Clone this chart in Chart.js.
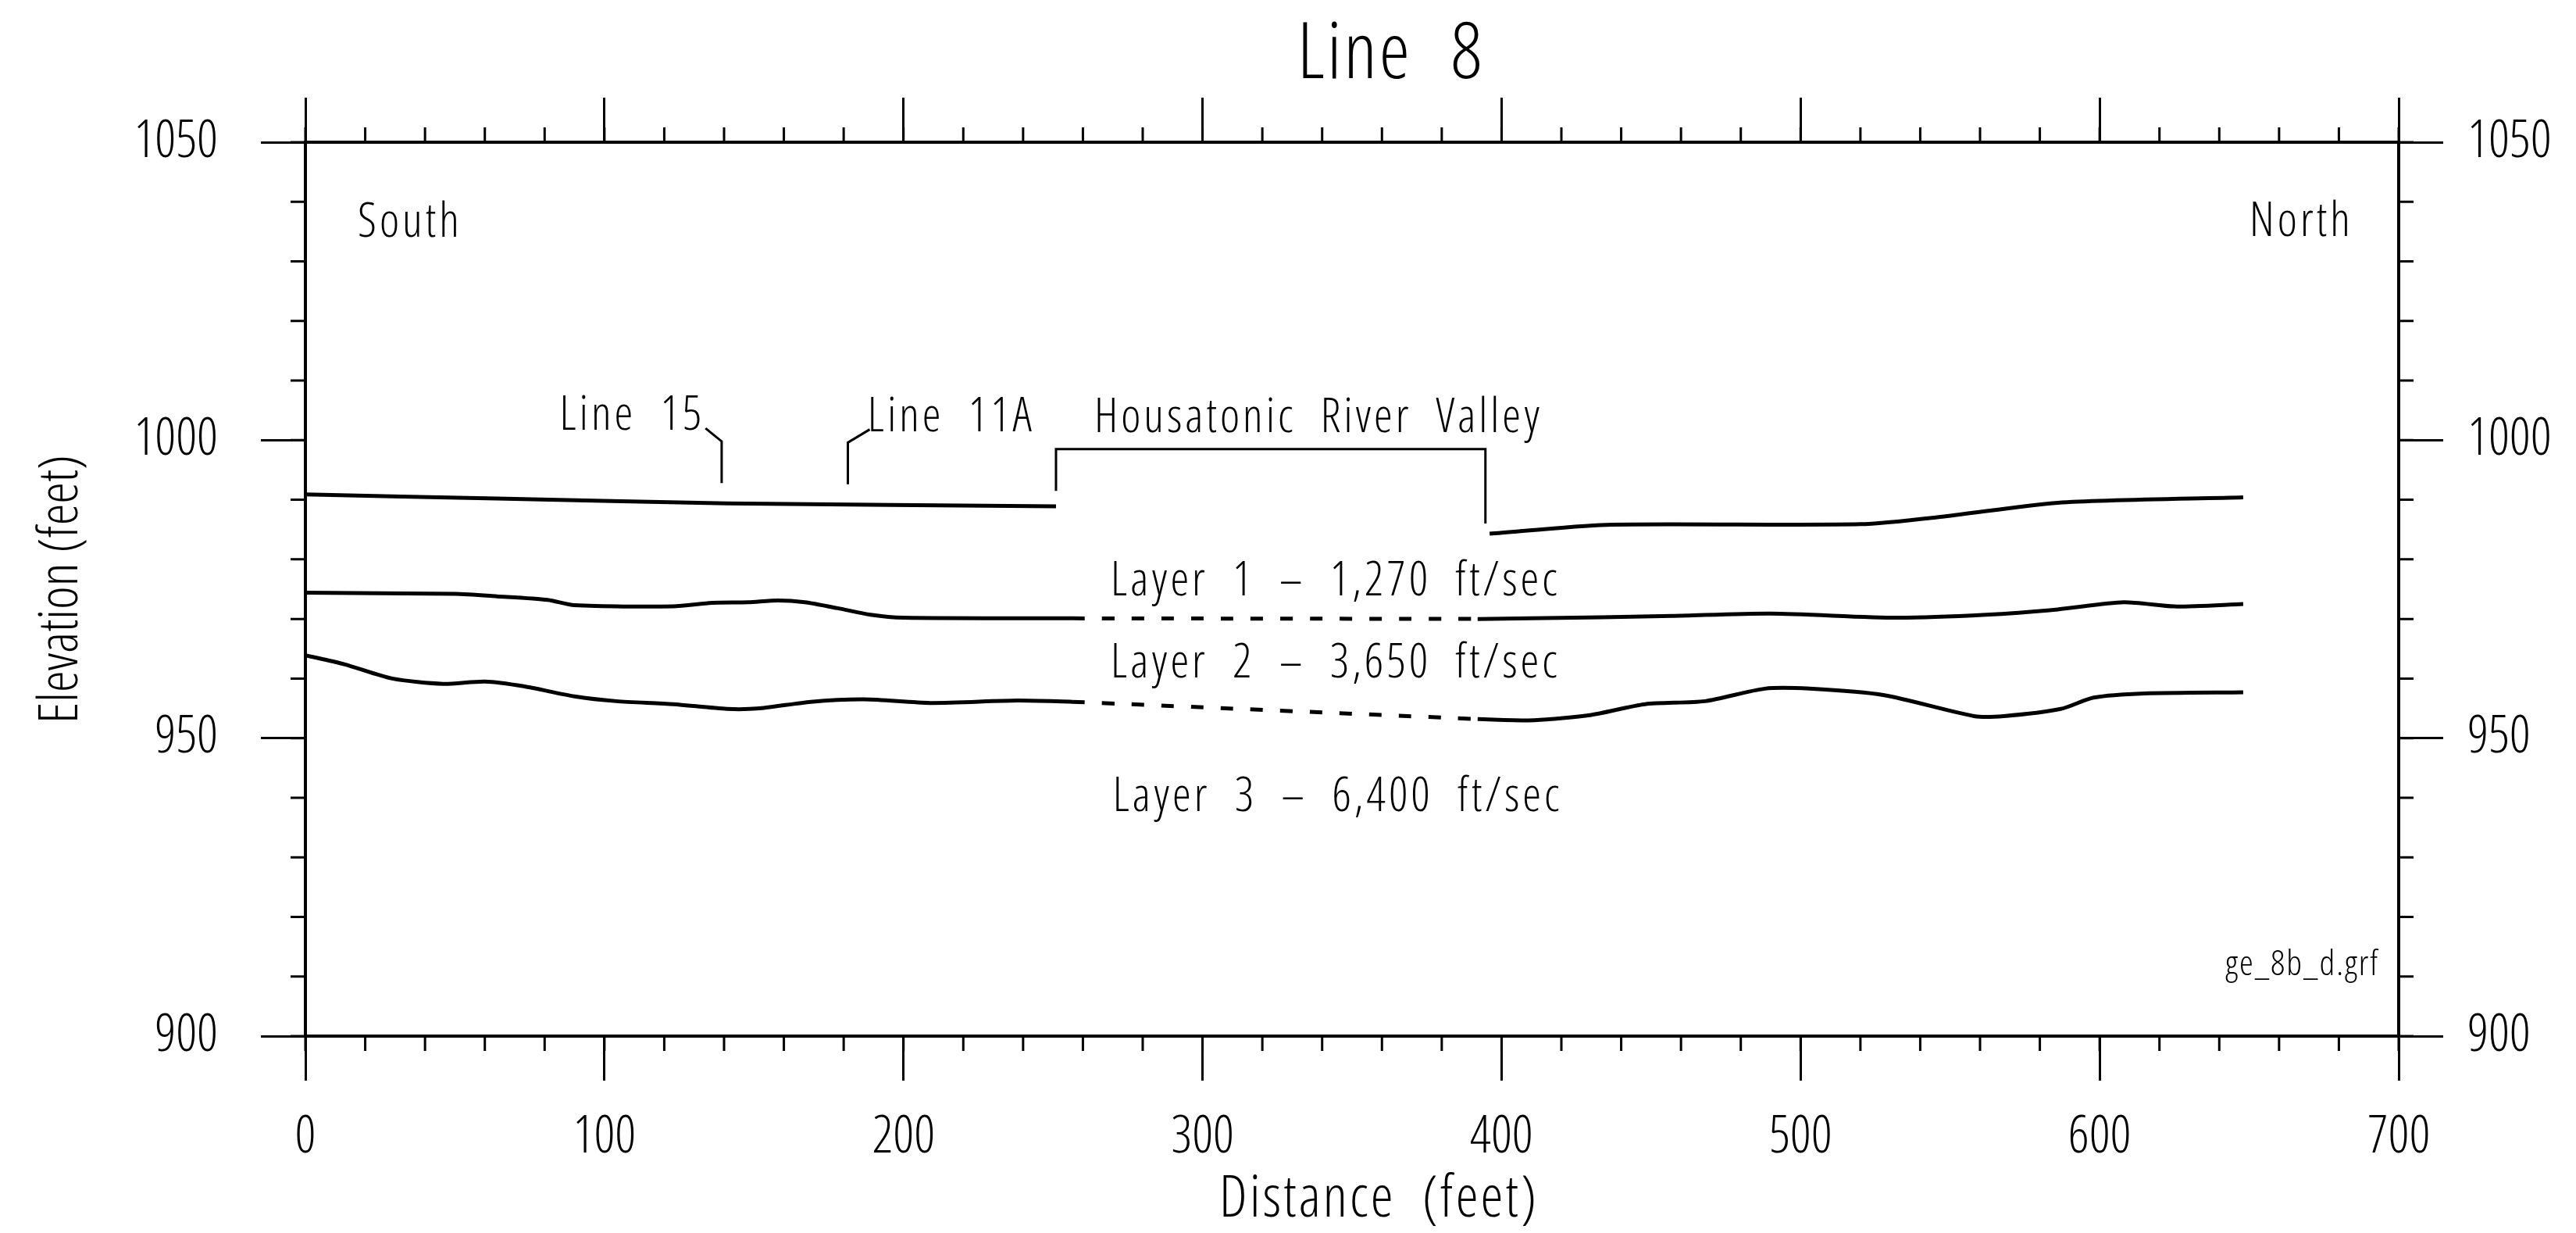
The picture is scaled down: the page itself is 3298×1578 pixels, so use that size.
<!DOCTYPE html>
<html>
<head>
<meta charset="utf-8">
<title>Line 8</title>
<script src="https://cdn.jsdelivr.net/npm/chart.js@4.4.1/dist/chart.umd.min.js"></script>
<style>
  html, body { margin: 0; padding: 0; background: #fff; }
  #wrap { width: 3298px; height: 1578px; }
</style>
</head>
<body>
<div id="wrap"><canvas id="profileChart" width="3298" height="1578"></canvas></div>
<script>
// thin condensed face, closest thing to the plotter font of the original
var FONT = "'Open Sans', 'DejaVu Sans Condensed', sans-serif";
var FACE = "300 condensed"; // goes in front of the size in the css font string

// axis ticks (feet)
var xTickValues = [0, 100, 200, 300, 400, 500, 600, 700];
var yTickValues = [900, 950, 1000, 1050];

// ground surface, south of the valley and north of it
var surfaceSouthX = [0, 64, 141, 251];
var surfaceSouthY = [990.9, 990.2, 989.4, 988.9];
var surfaceNorthX = [396, 435, 520, 548, 586, 648];
var surfaceNorthY = [984.3, 985.8, 985.9, 987.2, 989.5, 990.4];

// base of layer 1 (dashed where it crosses the valley)
var layer1SouthX = [0, 50, 64, 81, 90, 123, 136, 148, 158, 167, 178, 189, 200, 256.5];
var layer1SouthY = [974.4, 974.2, 973.8, 973.2, 972.3, 972.1, 972.7, 972.8, 973.1, 972.8, 971.8, 970.7, 970.2, 970.1];
var layer1GapX = [256.5, 392];
var layer1GapY = [970.1, 970.0];
var layer1NorthX = [392, 410, 457, 490, 532, 562, 586, 608, 625, 648];
var layer1NorthY = [970.0, 970.1, 970.5, 970.9, 970.2, 970.7, 971.6, 972.8, 972.1, 972.5];

// base of layer 2
var layer2SouthX = [0, 13, 29, 46, 60, 73, 90, 104, 123, 141, 152, 169, 187, 209, 238, 256.5];
var layer2SouthY = [963.9, 962.4, 960.0, 959.1, 959.5, 958.7, 957.0, 956.2, 955.7, 954.9, 955.0, 956.1, 956.5, 955.9, 956.3, 956.1];
var layer2GapX = [256.5, 392];
var layer2GapY = [956.1, 953.2];
var layer2NorthX = [392, 411, 430, 448, 468, 488, 503, 528, 558, 568, 587, 598, 615, 648];
var layer2NorthY = [953.2, 953.0, 953.9, 955.7, 956.2, 958.3, 958.3, 957.2, 953.7, 953.7, 954.9, 956.8, 957.5, 957.7];

// leaders for the crossing lines and the valley bracket
var line15LeaderX = [133.8, 139.2, 139.2];
var line15LeaderY = [1002.0, 999.8, 992.8];
var line11aLeaderX = [188.7, 181.4, 181.4];
var line11aLeaderY = [1001.8, 999.6, 992.6];
var valleyBracketX = [251, 251, 394.6, 394.6];
var valleyBracketY = [991.5, 998.5, 998.5, 986.0];

// text labels, anchored in data units (x = feet, y = elevation of the baseline)
var labelTexts = ["South", "North", "Line 15", "Line 11A", "Housatonic River Valley",
    "Layer 1 \u2013 1,270 ft/sec", "Layer 2 \u2013 3,650 ft/sec", "Layer 3 \u2013 6,400 ft/sec", "ge_8b_d.grf"];
var labelX = [17.5, 684.8, 85, 188, 263.8, 269.3, 269.3, 270, 693.6];
var labelY = [1034.1, 1034.3, 1001.75, 1001.5, 1001.4, 974.0, 960.2, 937.7, 910.2];

var chartTitle = "Line 8";
var xTitle = "Distance (feet)";
var yTitle = "Elevation (feet)";

function pts(xs, ys) {
    return xs.map(function(x, i) { return { x: x, y: ys[i] }; });
}

function profileLine(xs, ys, dashed) {
    return {
        data: pts(xs, ys),
        showLine: true,
        borderColor: "#000",
        borderWidth: 5,
        borderDash: dashed ? [16, 22] : [],
        tension: 0.25,
        pointRadius: 0,
        fill: false
    };
}

function leaderLine(xs, ys) {
    return {
        data: pts(xs, ys),
        showLine: true,
        borderColor: "#000",
        borderWidth: 3,
        tension: 0,
        pointRadius: 0,
        fill: false
    };
}

function setFont(ctx, size, letter, word) {
    ctx.font = FACE + " " + size + "px " + FONT;
    ctx.letterSpacing = letter + "px";
    ctx.wordSpacing = word + "px";
}

// minor ticks + all the free text
var profileDecor = {
    id: "profileDecor",
    afterDraw: function(chart) {
        var ctx = chart.ctx;
        var xs = chart.scales.x;
        var ys = chart.scales.y;
        var area = chart.chartArea;
        var minorLen = 19;
        var v, p;

        ctx.save();
        ctx.strokeStyle = "#000";
        ctx.lineWidth = 3;
        ctx.beginPath();
        for (v = 0; v <= 700; v += 20) {
            p = xs.getPixelForValue(v);
            ctx.moveTo(p, area.bottom);
            ctx.lineTo(p, area.bottom + minorLen);
            ctx.moveTo(p, area.top);
            ctx.lineTo(p, area.top - minorLen);
        }
        for (v = 900; v <= 1050; v += 10) {
            p = ys.getPixelForValue(v);
            ctx.moveTo(area.left, p);
            ctx.lineTo(area.left - minorLen, p);
            ctx.moveTo(area.right, p);
            ctx.lineTo(area.right + minorLen, p);
        }
        ctx.stroke();

        ctx.fillStyle = "#000";
        ctx.textBaseline = "alphabetic";
        for (var i = 0; i < labelTexts.length; i++) {
            if (labelTexts[i] === "ge_8b_d.grf") {
                setFont(ctx, 45, 2, 8);
            } else {
                setFont(ctx, 60, 4, 16);
            }
            ctx.textAlign = (labelTexts[i] === "North" || labelTexts[i] === "ge_8b_d.grf") ? "right" : "left";
            ctx.fillText(labelTexts[i], xs.getPixelForValue(labelX[i]), ys.getPixelForValue(labelY[i]));
        }

        // chart title and x title sit a bit right of centre in the original
        ctx.textAlign = "center";
        setFont(ctx, 99, 3, 28);
        ctx.fillText(chartTitle, xs.getPixelForValue(363), area.top - 82);
        setFont(ctx, 73, 3, 18);
        ctx.fillText(xTitle, xs.getPixelForValue(359), area.bottom + 231);
        ctx.restore();
    }
};

function axisGrid(len) {
    return {
        display: true,
        drawOnChartArea: false,
        drawTicks: true,
        tickLength: len,
        tickWidth: 3,
        tickColor: "#000"
    };
}

var axisBorder = { display: true, color: "#000", width: 4 };
var tickFont = { family: FONT, size: 66, weight: FACE };

new Chart(document.getElementById("profileChart"), {
    type: "scatter",
    data: {
        datasets: [
            profileLine(surfaceSouthX, surfaceSouthY, false),
            profileLine(surfaceNorthX, surfaceNorthY, false),
            profileLine(layer1SouthX, layer1SouthY, false),
            profileLine(layer1GapX, layer1GapY, true),
            profileLine(layer1NorthX, layer1NorthY, false),
            profileLine(layer2SouthX, layer2SouthY, false),
            profileLine(layer2GapX, layer2GapY, true),
            profileLine(layer2NorthX, layer2NorthY, false),
            leaderLine(line15LeaderX, line15LeaderY),
            leaderLine(line11aLeaderX, line11aLeaderY),
            leaderLine(valleyBracketX, valleyBracketY)
        ]
    },
    options: {
        responsive: false,
        devicePixelRatio: 1,
        animation: false,
        events: [],
        layout: { padding: 0 },
        plugins: {
            legend: { display: false },
            tooltip: { enabled: false },
            title: { display: false }
        },
        scales: {
            x: {
                type: "linear",
                position: "bottom",
                min: 0,
                max: 700,
                afterBuildTicks: function(s) { s.ticks = xTickValues.map(function(v) { return { value: v }; }); },
                afterFit: function(s) { s.height = 252; },
                grid: axisGrid(57),
                border: axisBorder,
                ticks: { color: "#000", font: tickFont, padding: 34, maxRotation: 0, callback: function(v) { return String(v); } }
            },
            x2: {
                type: "linear",
                position: "top",
                display: true,
                min: 0,
                max: 700,
                afterBuildTicks: function(s) { s.ticks = xTickValues.map(function(v) { return { value: v }; }); },
                afterFit: function(s) { s.height = 182; },
                grid: axisGrid(57),
                border: axisBorder,
                ticks: { display: false }
            },
            y: {
                type: "linear",
                position: "left",
                min: 900,
                max: 1050,
                afterBuildTicks: function(s) { s.ticks = yTickValues.map(function(v) { return { value: v }; }); },
                afterFit: function(s) { s.width = 391; },
                grid: axisGrid(57),
                border: axisBorder,
                ticks: { color: "#000", font: tickFont, padding: 55, callback: function(v) { return String(v); } },
                title: { display: true, text: yTitle, color: "#000", font: { family: FONT, size: 70, weight: FACE }, padding: { top: 37, bottom: 0 } }
            },
            y2: {
                type: "linear",
                position: "right",
                display: true,
                min: 900,
                max: 1050,
                afterBuildTicks: function(s) { s.ticks = yTickValues.map(function(v) { return { value: v }; }); },
                afterFit: function(s) { s.width = 227; },
                grid: axisGrid(57),
                border: axisBorder,
                ticks: { color: "#000", font: tickFont, padding: 31, callback: function(v) { return String(v); } }
            }
        }
    },
    plugins: [profileDecor]
});
</script>
</body>
</html>
